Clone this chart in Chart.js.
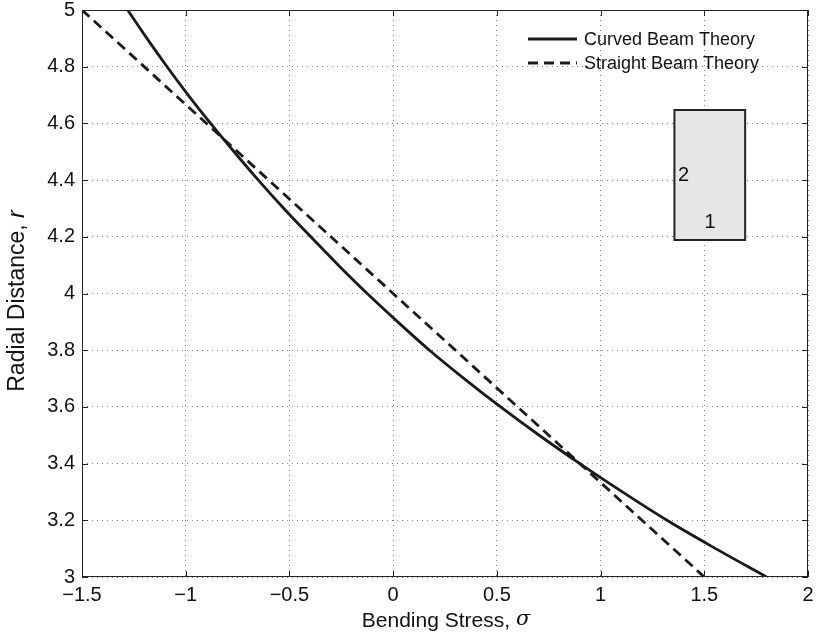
<!DOCTYPE html>
<html>
<head>
<meta charset="utf-8">
<script src="https://cdn.jsdelivr.net/npm/chart.js@4.4.1/dist/chart.umd.min.js"></script>
<style>
  html, body { margin: 0; padding: 0; background: #fff; }
  #wrap { width: 819px; height: 642px; }
</style>
</head>
<body>
<div id="wrap"><canvas id="beamChart" width="819" height="642"></canvas></div>
<script>
// radial distance r (y) and bending stress sigma (x)
const curvedR     = [5.0, 4.9, 4.8, 4.7, 4.6, 4.5, 4.4, 4.3, 4.2, 4.1, 4.0, 3.9, 3.8, 3.7, 3.6, 3.5, 3.4, 3.3, 3.2, 3.1, 3.0];
const curvedSigma = [-1.28, -1.187, -1.09, -0.988, -0.88, -0.767, -0.65, -0.527, -0.397, -0.264, -0.125, 0.022, 0.175, 0.342, 0.518, 0.704, 0.90, 1.105, 1.32, 1.555, 1.80];
const straightR     = [5.0, 3.0];
const straightSigma = [-1.5, 1.5];

// cross-section sketch (gray box) and its point labels
const boxSigma = [1.356, 1.697, 1.697, 1.356];
const boxR     = [4.647, 4.647, 4.189, 4.189];
const pointLabels = ['2', '1'];
const labelSigma  = [1.40, 1.528];
const labelR      = [4.418, 4.252];

const xTicks = [-1.5, -1, -0.5, 0, 0.5, 1, 1.5, 2];
const yTicks = [3, 3.2, 3.4, 3.6, 3.8, 4, 4.2, 4.4, 4.6, 4.8, 5];

const FONT = '"Liberation Sans", Arial, Helvetica, sans-serif';

const toPoints = (xs, ys) => xs.map((x, i) => ({ x: x, y: ys[i] }));
const fmt = v => Number(v.toFixed(1)).toString().replace('-', '\u2212');

// draws the box frame, inward ticks, inset sketch, legend and axis titles
const matlabLook = {
    id: 'matlabLook',
    beforeDatasetsDraw(chart) {
        const { ctx, scales: { x, y } } = chart;
        ctx.save();
        ctx.beginPath();
        boxSigma.forEach((s, i) => {
            const px = x.getPixelForValue(s), py = y.getPixelForValue(boxR[i]);
            i === 0 ? ctx.moveTo(px, py) : ctx.lineTo(px, py);
        });
        ctx.closePath();
        ctx.fillStyle = '#e5e6e8';
        ctx.fill();
        ctx.lineWidth = 2;
        ctx.strokeStyle = '#222';
        ctx.stroke();
        ctx.fillStyle = '#111';
        ctx.font = '20px ' + FONT;
        ctx.textAlign = 'center';
        ctx.textBaseline = 'middle';
        pointLabels.forEach((t, i) => {
            ctx.fillText(t, x.getPixelForValue(labelSigma[i]), y.getPixelForValue(labelR[i]));
        });
        ctx.restore();
    },
    afterDraw(chart) {
        const { ctx, chartArea: a, scales: { x, y } } = chart;
        ctx.save();
        ctx.strokeStyle = '#222';
        ctx.lineWidth = 1;
        ctx.strokeRect(a.left + 0.5, a.top + 0.5, a.right - a.left - 1, a.bottom - a.top - 1);

        // inward ticks
        const tl = 6;
        ctx.beginPath();
        xTicks.forEach(v => {
            const px = Math.round(x.getPixelForValue(v)) + 0.5;
            ctx.moveTo(px, a.bottom); ctx.lineTo(px, a.bottom - tl);
            ctx.moveTo(px, a.top); ctx.lineTo(px, a.top + tl);
        });
        yTicks.forEach(v => {
            const py = Math.round(y.getPixelForValue(v)) + 0.5;
            ctx.moveTo(a.left, py); ctx.lineTo(a.left + tl, py);
            ctx.moveTo(a.right, py); ctx.lineTo(a.right - tl, py);
        });
        ctx.stroke();

        // legend
        ctx.font = '18px ' + FONT;
        ctx.textAlign = 'left';
        ctx.textBaseline = 'middle';
        ctx.fillStyle = '#111';
        chart.data.datasets.forEach((ds, i) => {
            const ly = 39 + i * 24;
            ctx.beginPath();
            ctx.setLineDash(ds.borderDash || []);
            ctx.lineWidth = 2.8;
            ctx.strokeStyle = ds.borderColor;
            ctx.moveTo(528, ly); ctx.lineTo(577, ly);
            ctx.stroke();
            ctx.setLineDash([]);
            ctx.fillText(ds.label, 584, ly + 1);
        });

        // axis titles with italic symbols
        const xa = 'Bending Stress, ', xs = '\u03c3';
        ctx.font = '21px ' + FONT;
        const w1 = ctx.measureText(xa).width;
        ctx.font = 'italic 21px "DejaVu Serif", serif';
        const w2 = ctx.measureText(xs).width;
        const sx = 446 - (w1 + w2) / 2;
        ctx.font = '21px ' + FONT;
        ctx.fillText(xa, sx, 621);
        ctx.font = 'italic 21px "DejaVu Serif", serif';
        ctx.fillText(xs, sx + w1, 620);

        ctx.translate(18, 301);
        ctx.rotate(-Math.PI / 2);
        const ya = 'Radial Distance, ', ys = 'r';
        ctx.font = '23px ' + FONT;
        const v1 = ctx.measureText(ya).width;
        ctx.font = 'italic 23px ' + FONT;
        const v2 = ctx.measureText(ys).width;
        const sy = -(v1 + v2) / 2;
        ctx.font = '23px ' + FONT;
        ctx.fillText(ya, sy, 0);
        ctx.font = 'italic 23px ' + FONT;
        ctx.fillText(ys, sy + v1, 0);
        ctx.restore();
    }
};

const ctx = document.getElementById('beamChart').getContext('2d');
new Chart(ctx, {
    type: 'scatter',
    data: {
        datasets: [
            {
                label: 'Curved Beam Theory',
                data: toPoints(curvedSigma, curvedR),
                showLine: true,
                borderColor: '#1a1a1a',
                borderWidth: 2.8,
                pointRadius: 0,
                cubicInterpolationMode: 'monotone'
            },
            {
                label: 'Straight Beam Theory',
                data: toPoints(straightSigma, straightR),
                showLine: true,
                borderColor: '#1a1a1a',
                borderWidth: 2.8,
                borderDash: [10, 6],
                pointRadius: 0
            }
        ]
    },
    options: {
        responsive: false,
        animation: false,
        layout: { padding: { top: 10, right: 11, left: 0, bottom: 0 } },
        plugins: {
            legend: { display: false },
            tooltip: { enabled: false }
        },
        scales: {
            x: {
                type: 'linear',
                min: -1.5,
                max: 2,
                afterFit: s => { s.height = 65; s.paddingLeft = 0; s.paddingRight = 0; },
                afterBuildTicks: s => { s.ticks = xTicks.map(v => ({ value: v })); },
                border: { display: false, dash: [1, 4] },
                grid: {
                    color: 'rgba(0,0,0,0.5)',
                    lineWidth: 1,
                    drawTicks: false
                },
                ticks: {
                    padding: 6,
                    color: '#111',
                    font: { family: FONT, size: 20 },
                    callback: v => fmt(v)
                }
            },
            y: {
                type: 'linear',
                min: 3,
                max: 5,
                afterFit: s => { s.width = 82; s.paddingTop = 0; s.paddingBottom = 0; },
                afterBuildTicks: s => { s.ticks = yTicks.map(v => ({ value: v })); },
                border: { display: false, dash: [1, 4] },
                grid: {
                    color: 'rgba(0,0,0,0.5)',
                    lineWidth: 1,
                    drawTicks: false
                },
                ticks: {
                    padding: 7,
                    color: '#111',
                    font: { family: FONT, size: 20 },
                    callback: v => fmt(v)
                }
            }
        }
    },
    plugins: [matlabLook]
});
</script>
</body>
</html>
